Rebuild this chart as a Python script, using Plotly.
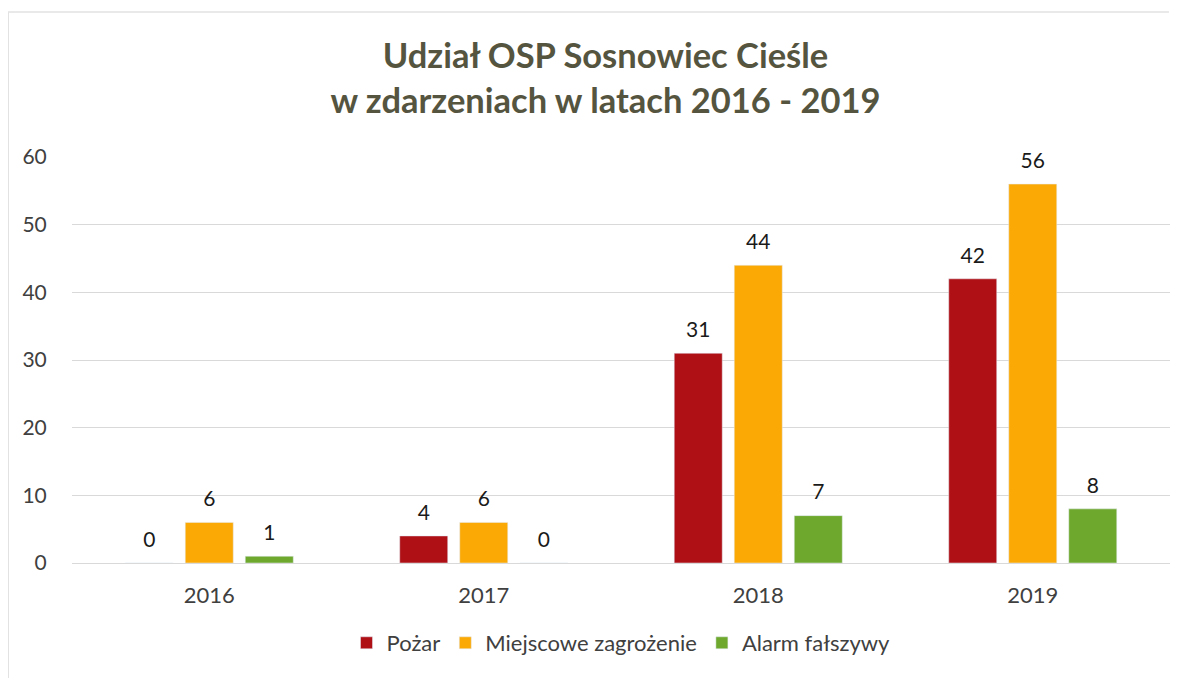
import plotly.graph_objects as go

years = ["2016", "2017", "2018", "2019"]
series_names = ["Pożar", "Miejscowe zagrożenie", "Alarm fałszywy"]
pozar = [0, 4, 31, 42]
miejscowe = [6, 6, 44, 56]
alarm = [1, 0, 7, 8]
colors = ["#AE1016", "#FBA905", "#6EA82C"]

FONT = "Lato, 'Open Sans', sans-serif"

fig = go.Figure()
for name, vals, col in zip(series_names, [pozar, miejscowe, alarm], colors):
    fig.add_trace(go.Bar(
        x=years, y=vals, name=name, marker_color=col, offsetgroup=name,
    ))
# value labels (grouped scatter text aligned with the bars)
for name, vals in zip(series_names, [pozar, miejscowe, alarm]):
    fig.add_trace(go.Scatter(
        x=years, y=vals, mode="markers+text", offsetgroup=name,
        text=[str(v) for v in vals], textposition="top center",
        textfont=dict(size=21, color="#1a1a1a", family=FONT),
        marker=dict(size=16, opacity=0), showlegend=False, hoverinfo="skip",
        cliponaxis=False,
    ))

# plot area in figure px: x 64..1162, y 149..555 (page body has 8px offset)
fig.update_layout(
    width=1195, height=678,
    paper_bgcolor="white", plot_bgcolor="white",
    font=dict(family=FONT, color="#595959"),
    title=dict(
        text="<b>Udział OSP Sosnowiec Cieśle<br>w zdarzeniach w latach 2016 - 2019</b>",
        x=0.5, xanchor="center", y=1 - 60 / 678, yanchor="middle",
        font=dict(size=34.5, color="#55553f", family=FONT),
    ),
    barmode="group", bargap=0.344, bargroupgap=0.2,
    scattermode="group", scattergap=0.344,
    margin=dict(l=64, r=33, t=149, b=123),
    showlegend=True,
    legend=dict(orientation="h", x=0.5, xanchor="center", y=-0.197, yanchor="middle",
                font=dict(size=22, color="#404040"), itemwidth=30,
                traceorder="normal"),
    xaxis=dict(showgrid=False, showline=True, linecolor="#d9d9d9",
               ticks="outside", ticklen=13, tickcolor="rgba(0,0,0,0)",
               tickfont=dict(size=22, color="#404040")),
    yaxis=dict(range=[0, 60], dtick=10, showgrid=True, gridcolor="#d9d9d9",
               zeroline=False, showline=False,
               ticks="outside", ticklen=20, tickcolor="rgba(0,0,0,0)",
               tickfont=dict(size=21, color="#404040")),
    shapes=[
        dict(type="line", xref="paper", yref="paper",
             x0=-0.0583, x1=0.999, y0=1.357, y1=1.357,
             line=dict(color="#e2e2e2", width=1.5)),
        dict(type="line", xref="paper", yref="paper",
             x0=-0.0583, x1=-0.0583, y0=1.357, y1=-0.32,
             line=dict(color="#e2e2e2", width=2)),
    ],
)

fig.write_html("out.html")
